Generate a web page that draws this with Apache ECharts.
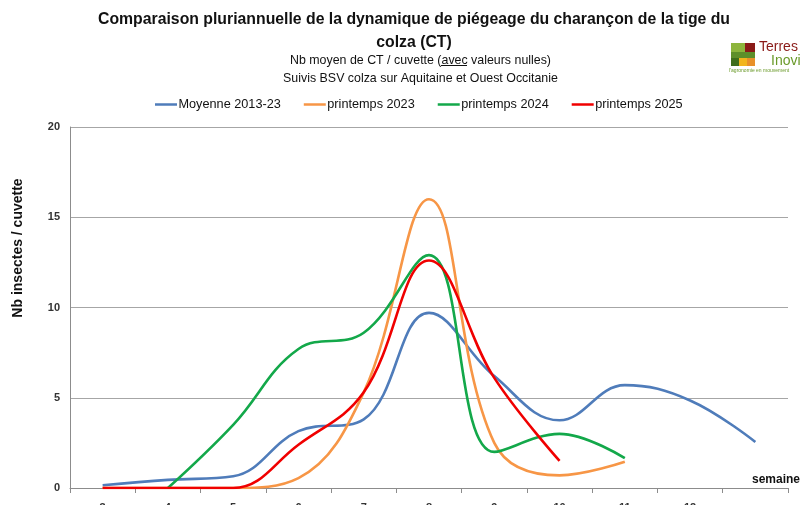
<!DOCTYPE html>
<html>
<head>
<meta charset="utf-8">
<script src="https://cdn.jsdelivr.net/npm/echarts@6/dist/echarts.min.js"></script>
<style>
  html, body { margin: 0; padding: 0; background: #fff; }
  #chart { width: 801px; height: 505px; }
</style>
</head>
<body>
<div id="chart"></div>
<script>
// semaines (la dernière n'a pas d'étiquette sur l'original)
const weeks = ['3', '4', '5', '6', '7', '8', '9', '10', '11', '12', ''];

// Nb moyen de CT / cuvette
const moyenne = [0.15, 0.45, 0.65, 3.15, 3.8, 9.7, 6.2, 3.75, 5.7, 4.85, 2.55];
const pr2023  = [0, 0, 0, 0.55, 5.3, 16.0, 2.5, 0.7, 1.45, null, null];
const pr2024  = [null, 0, 3.5, 7.7, 8.6, 12.9, 2.0, 3.0, 1.65, null, null];
const pr2025  = [0, 0, 0, 2.4, 5.3, 12.6, 6.1, 1.5, null, null, null];

const yTicks = { min: 0, max: 20, interval: 5 };

const FONT = 'Liberation Sans, Arial, sans-serif';

const chart = echarts.init(document.getElementById('chart'), null, { renderer: 'canvas' });

function line(name, data, color) {
  return {
    name, type: 'line', data,
    smooth: 0.4,
    symbol: 'none',
    connectNulls: false,
    lineStyle: { color, width: 2.6 },
    itemStyle: { color },
  };
}

chart.setOption({
  backgroundColor: '#fff',
  animation: false,
  title: [
    {
      text: 'Comparaison pluriannuelle de la dynamique de piégeage du charançon de la tige du\ncolza (CT)',
      left: 409, top: 3, textAlign: 'center',
      textStyle: { fontFamily: FONT, fontSize: 15.8, fontWeight: 'bold', color: '#111', lineHeight: 23, align: 'center' },
    },
    {
      text: 'Nb moyen de CT / cuvette (avec valeurs nulles)\nSuivis BSV colza sur Aquitaine et Ouest Occitanie',
      left: 415.5, top: 47, textAlign: 'center',
      textStyle: { fontFamily: FONT, fontSize: 12.4, fontWeight: 'normal', color: '#111', lineHeight: 18, align: 'center' },
    },
  ],
  legend: {
    top: 93, left: 150, width: 640,
    itemWidth: 22, itemHeight: 2.5, itemGap: 23,
    icon: 'rect',
    textStyle: { fontFamily: FONT, fontSize: 12.7, color: '#111', padding: [0, 0, 0, -3.5] },
    data: ['Moyenne 2013-23', 'printemps 2023', 'printemps 2024', 'printemps 2025'],
  },
  grid: { left: 70, right: 13, top: 127, bottom: 17, outerBoundsMode: 'none', containLabel: false },
  xAxis: {
    type: 'category',
    data: weeks,
    boundaryGap: true,
    name: 'semaine',
    nameLocation: 'end',
    nameGap: -36,
    nameTextStyle: { fontFamily: FONT, fontSize: 12, fontWeight: 'bold', color: '#111', align: 'left', verticalAlign: 'bottom', padding: [0, 0, 2, 0] },
    axisLine: { lineStyle: { color: '#8c8c8c', width: 1 } },
    axisTick: { show: true, alignWithLabel: false, length: 5, lineStyle: { color: '#8c8c8c' } },
    axisLabel: { fontFamily: FONT, fontSize: 11, fontWeight: 'bold', color: '#333', margin: 14 },
    splitLine: { show: false },
  },
  yAxis: {
    type: 'value',
    min: yTicks.min, max: yTicks.max, interval: yTicks.interval,
    axisLine: { show: true, lineStyle: { color: '#8c8c8c', width: 1 } },
    axisTick: { show: false },
    axisLabel: { fontFamily: FONT, fontSize: 11, fontWeight: 'bold', color: '#333', margin: 10 },
    splitLine: { lineStyle: { color: '#a6a6a6', width: 1 } },
  },
  graphic: [
    {
      type: 'text', x: 18, y: 248, rotation: Math.PI / 2,
      style: { text: 'Nb insectes / cuvette', fontFamily: FONT, fontSize: 14, fontWeight: 'bold', fill: '#111', align: 'center', verticalAlign: 'middle' },
    },
    // soulignement de "avec"
    { type: 'line', shape: { x1: 441, y1: 65.5, x2: 467, y2: 65.5 }, style: { stroke: '#111', lineWidth: 1 } },
    // logo Terres Inovia (décor)
    { type: 'rect', shape: { x: 731, y: 43, width: 14, height: 9 }, style: { fill: '#8db53c' } },
    { type: 'rect', shape: { x: 745, y: 43, width: 10, height: 9 }, style: { fill: '#8a1a17' } },
    { type: 'rect', shape: { x: 731, y: 52, width: 24, height: 6 }, style: { fill: '#5e8f2a' } },
    { type: 'rect', shape: { x: 731, y: 58, width: 8, height: 8 }, style: { fill: '#3f6e1c' } },
    { type: 'rect', shape: { x: 739, y: 58, width: 8, height: 8 }, style: { fill: '#f2b51c' } },
    { type: 'rect', shape: { x: 747, y: 58, width: 8, height: 8 }, style: { fill: '#e8902a' } },
    { type: 'text', x: 759, y: 40, style: { text: 'Terres', fontFamily: FONT, fontSize: 14, fill: '#8a1a17' } },
    { type: 'text', x: 771, y: 54, style: { text: 'Inovia', fontFamily: FONT, fontSize: 14, fill: '#6a9a2a' } },
    { type: 'text', x: 729, y: 68, style: { text: "l'agronomie en mouvement", fontFamily: FONT, fontSize: 5, fill: '#6a9a2a' } },
  ],
  series: [
    line('Moyenne 2013-23', moyenne, '#4f7cba'),
    line('printemps 2023', pr2023, '#f79646'),
    line('printemps 2024', pr2024, '#13a84a'),
    line('printemps 2025', pr2025, '#f00000'),
  ],
});
</script>
</body>
</html>
